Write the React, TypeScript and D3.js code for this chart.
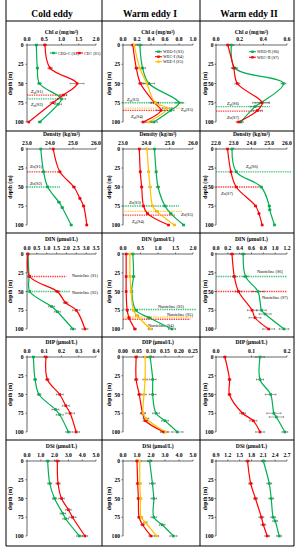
import React from "react";
import * as d3 from "d3";

const GREEN = "#00B050";
const RED = "#FF0000";
const ORANGE = "#FFC000";
const FONT = "'Liberation Serif', 'Times New Roman', Times, serif";

// ---------- text ----------
const columnTitles = ["Cold eddy", "Warm eddy I", "Warm eddy II"];
const variableNames = ["Chl", "Density", "DIN", "DIP", "DSi"];
const variableUnits = ["(mg/m³)", "(kg/m³)", "(μmol/L)", "(μmol/L)", "(μmol/L)"];
const stationNames = ["CEC (S1)", "CEO-C (S2)", "WEO-I (S3)", "WEC-I (S4)", "WEE-I (S5)", "WEO-II (S6)", "WEC-II (S7)"];
const stationCodes = ["S1", "S2", "S3", "S4", "S5", "S6", "S7"];
const depthTicks = [0, 25, 50, 75, 100];

// ---------- sampling depths (m) per station ----------
const depthS1 = [0, 30, 50, 65, 75, 100];
const depthS2 = [0, 30, 50, 70, 77, 100];
const depthS3 = [0, 30, 50, 75, 85, 100];
const depthS4 = [0, 30, 50, 75, 85, 100];
const depthS5 = [0, 30, 50, 75, 82, 100];
const depthS6 = [0, 30, 50, 75, 80, 100];
const depthS7 = [0, 30, 50, 75, 85, 100];

// ---------- Chl a (mg/m3) ----------
const chlS1 = [0.52, 0.67, 1.45, 1.05, 0.75, 0.05];
const chlS2 = [0.27, 0.3, 0.36, 1.0, 0.9, 0.37];
const chlS3 = [0.24, 0.28, 0.37, 0.8, 0.68, 0.44];
const chlS4 = [0.14, 0.19, 0.25, 0.45, 0.54, 0.29];
const chlS5 = [0.16, 0.24, 0.34, 0.46, 0.63, 0.37];
const chlS6 = [0.13, 0.16, 0.57, 0.38, 0.33, 0.21];
const chlS7 = [0.1, 0.15, 0.18, 0.39, 0.35, 0.19];
const chlS1Err = [0.04, 0.06, 0.2, 0.1, 0.08, 0.02];
const chlS2Err = [0.03, 0.03, 0.05, 0.12, 0.1, 0.04];
const chlS3Err = [0.03, 0.04, 0.08, 0.05, 0.05, 0.05];
const chlS4Err = [0.02, 0.02, 0.03, 0.06, 0.06, 0.03];
const chlS5Err = [0.02, 0.03, 0.04, 0.05, 0.07, 0.04];
const chlS6Err = [0.02, 0.02, 0.02, 0.07, 0.04, 0.02];
const chlS7Err = [0.01, 0.02, 0.02, 0.06, 0.04, 0.02];

// ---------- Density (kg/m3) ----------
const denS1 = [24.14, 24.43, 25.04, 25.3, 25.46, 25.6];
const denS2 = [23.6, 23.72, 23.9, 24.39, 24.53, 24.92];
const denS3 = [24.35, 24.42, 24.5, 24.8, 25.05, 25.6];
const denS4 = [23.7, 23.74, 23.8, 23.88, 24.05, 24.95];
const denS5 = [24.03, 24.1, 24.16, 24.27, 24.45, 25.2];
const denS6 = [22.9, 23.14, 24.55, 25.0, 25.03, 25.3];
const denS7 = [22.65, 22.84, 23.14, 24.23, 24.42, 24.6];
const denS1Err = [0.03, 0.05, 0.06, 0.05, 0.05, 0.04];
const denS2Err = [0.03, 0.05, 0.05, 0.06, 0.05, 0.04];
const denS3Err = [0.03, 0.04, 0.06, 0.05, 0.05, 0.04];
const denS4Err = [0.03, 0.04, 0.05, 0.05, 0.05, 0.04];
const denS5Err = [0.03, 0.04, 0.05, 0.05, 0.05, 0.04];
const denS6Err = [0.03, 0.05, 0.05, 0.06, 0.06, 0.04];
const denS7Err = [0.03, 0.04, 0.05, 0.06, 0.05, 0.04];

// ---------- DIN (umol/L) ----------
const dinS1 = [0.05, 0.14, 1.54, 1.96, 2.5, 2.94];
const dinS2 = [0.05, 0.1, 0.14, 1.25, 1.54, 2.33];
const dinS3 = [0.28, 0.3, 0.25, 0.37, 0.75, 1.4];
const dinS4 = [0.09, 0.09, 0.09, 0.12, 0.17, 0.34];
const dinS5 = [0.2, 0.2, 0.23, 0.3, 0.4, 0.78];
const dinS6 = [0.46, 0.5, 0.71, 0.77, 0.83, 1.15];
const dinS7 = [0.27, 0.31, 0.38, 0.61, 0.66, 0.89];
const dinS1Err = [0.02, 0.03, 0.12, 0.12, 0.18, 0.15];
const dinS2Err = [0.02, 0.02, 0.03, 0.15, 0.15, 0.12];
const dinS3Err = [0.03, 0.04, 0.03, 0.04, 0.05, 0.1];
const dinS4Err = [0.02, 0.02, 0.02, 0.02, 0.03, 0.04];
const dinS5Err = [0.02, 0.02, 0.02, 0.03, 0.04, 0.06];
const dinS6Err = [0.03, 0.04, 0.1, 0.08, 0.1, 0.08];
const dinS7Err = [0.03, 0.03, 0.05, 0.08, 0.1, 0.1];

// ---------- DIP (umol/L) ----------
const dipS1 = [0.11, 0.118, 0.19, 0.225, 0.25, 0.285];
const dipS2 = [0.037, 0.047, 0.07, 0.165, 0.19, 0.24];
const dipS3 = [0.097, 0.106, 0.106, 0.118, 0.15, 0.194];
const dipS4 = [0.047, 0.047, 0.058, 0.07, 0.08, 0.146];
const dipS5 = [0.079, 0.079, 0.075, 0.072, 0.082, 0.152];
const dipS6 = [0.124, 0.124, 0.154, 0.163, 0.17, 0.194];
const dipS7 = [0.025, 0.038, 0.038, 0.075, 0.105, 0.124];
const dipS1Err = [0.01, 0.01, 0.02, 0.02, 0.025, 0.02];
const dipS2Err = [0.005, 0.008, 0.01, 0.02, 0.02, 0.015];
const dipS3Err = [0.012, 0.012, 0.012, 0.012, 0.012, 0.02];
const dipS4Err = [0.005, 0.006, 0.006, 0.008, 0.008, 0.012];
const dipS5Err = [0.006, 0.008, 0.008, 0.008, 0.01, 0.012];
const dipS6Err = [0.012, 0.01, 0.015, 0.02, 0.02, 0.008];
const dipS7Err = [0.003, 0.004, 0.004, 0.008, 0.01, 0.012];

// ---------- DSi (umol/L) ----------
const dsiS1 = [2.2, 2.25, 2.5, 3.0, 3.3, 4.2];
const dsiS2 = [1.5, 1.65, 2.0, 2.6, 2.8, 3.8];
const dsiS3 = [1.9, 2.1, 2.2, 2.2, 2.8, 3.6];
const dsiS4 = [1.0, 1.05, 1.1, 1.15, 1.4, 2.0];
const dsiS5 = [1.2, 1.2, 1.25, 1.3, 1.6, 2.4];
const dsiS6 = [2.1, 2.25, 2.3, 2.35, 2.4, 2.5];
const dsiS7 = [1.7, 1.78, 1.9, 2.05, 2.1, 2.2];
const dsiS1Err = [0.15, 0.15, 0.2, 0.2, 0.25, 0.2];
const dsiS2Err = [0.1, 0.15, 0.15, 0.2, 0.2, 0.2];
const dsiS3Err = [0.15, 0.2, 0.2, 0.2, 0.2, 0.25];
const dsiS4Err = [0.08, 0.1, 0.1, 0.1, 0.12, 0.15];
const dsiS5Err = [0.1, 0.1, 0.1, 0.1, 0.12, 0.15];
const dsiS6Err = [0.05, 0.06, 0.06, 0.06, 0.06, 0.06];
const dsiS7Err = [0.04, 0.05, 0.05, 0.06, 0.06, 0.06];

// ---------- reference depths (m) per station S1..S7 ----------
const zmChl = [65, 70, 75, 85, 82, 80, 86];
const zmDensity = [30, 50, 75, 87, 82, 30, 50];
const nutricline = [30, 50, 74, 87, 84, 30, 50];

// ---------- axis ticks ----------
const chlTicksCold = [0, 0.5, 1.0, 1.5, 2.0];
const chlTicksW1 = [0, 0.2, 0.4, 0.6, 0.8, 1.0];
const chlTicksW2 = [0, 0.2, 0.4, 0.6];
const denTicksCold = [23, 24, 25, 26];
const denTicksW1 = [23, 24, 25, 26];
const denTicksW2 = [22, 23, 24, 25, 26];
const dinTicksCold = [0, 0.5, 1.0, 1.5, 2.0, 2.5, 3.0, 3.5];
const dinTicksW1 = [0, 0.5, 1.0, 1.5, 2.0];
const dinTicksW2 = [0, 0.2, 0.4, 0.6, 0.8, 1.0, 1.2];
const dipTicksCold = [0, 0.1, 0.2, 0.3, 0.4];
const dipTicksW1 = [0, 0.05, 0.1, 0.15, 0.2, 0.25];
const dipTicksW2 = [0, 0.1, 0.2];
const dsiTicksCold = [0, 1, 2, 3, 4, 5];
const dsiTicksW1 = [0, 1, 2, 3, 4, 5];
const dsiTicksW2 = [0.9, 1.2, 1.5, 1.8, 2.1, 2.4, 2.7];

// ---------- tables built from the arrays ----------
const depthTable = [depthS1, depthS2, depthS3, depthS4, depthS5, depthS6, depthS7];
const valueTable = [
  [chlS1, chlS2, chlS3, chlS4, chlS5, chlS6, chlS7],
  [denS1, denS2, denS3, denS4, denS5, denS6, denS7],
  [dinS1, dinS2, dinS3, dinS4, dinS5, dinS6, dinS7],
  [dipS1, dipS2, dipS3, dipS4, dipS5, dipS6, dipS7],
  [dsiS1, dsiS2, dsiS3, dsiS4, dsiS5, dsiS6, dsiS7],
];
const errTable = [
  [chlS1Err, chlS2Err, chlS3Err, chlS4Err, chlS5Err, chlS6Err, chlS7Err],
  [denS1Err, denS2Err, denS3Err, denS4Err, denS5Err, denS6Err, denS7Err],
  [dinS1Err, dinS2Err, dinS3Err, dinS4Err, dinS5Err, dinS6Err, dinS7Err],
  [dipS1Err, dipS2Err, dipS3Err, dipS4Err, dipS5Err, dipS6Err, dipS7Err],
  [dsiS1Err, dsiS2Err, dsiS3Err, dsiS4Err, dsiS5Err, dsiS6Err, dsiS7Err],
];
const tickTable = [
  [chlTicksCold, chlTicksW1, chlTicksW2],
  [denTicksCold, denTicksW1, denTicksW2],
  [dinTicksCold, dinTicksW1, dinTicksW2],
  [dipTicksCold, dipTicksW1, dipTicksW2],
  [dsiTicksCold, dsiTicksW1, dsiTicksW2],
];

// ---------- layout / style ----------
const stationColors = [RED, GREEN, GREEN, RED, ORANGE, GREEN, RED];
const colStations = [[1, 0], [2, 3, 4], [5, 6]];
const colX = [[27, 96], [123, 193], [216, 287]];
const rowY = [[45, 122], [149, 225], [254, 329], [357, 432], [461, 536]];
const tickLabelRight = [23.5, 120, 213.5];
const yTitleX = [12, 111, 207];
const colSep = [6, 102, 200, 294];
const rowSep = [21, 131, 233, 337, 440, 546];
const colCenter = [52, 150, 249];

type RefSpec = { s: number; end: number; lx: number; ly: number };
// reference line layout per [row][col]
const refLayout: Record<string, RefSpec[]> = {
  "0-0": [{ s: 0, end: 0.58, lx: 31, ly: 93 }, { s: 1, end: 0.45, lx: 31, ly: 106 }],
  "0-1": [{ s: 2, end: 0.89, lx: 127, ly: 101 }, { s: 4, end: 0.84, lx: 181, ly: 111 }, { s: 3, end: 0.64, lx: 131, ly: 118 }],
  "0-2": [{ s: 5, end: 0.76, lx: 227, ly: 105 }, { s: 6, end: 0.66, lx: 227, ly: 118.5 }],
  "1-0": [{ s: 0, end: 0.5, lx: 30, ly: 167.5 }, { s: 1, end: 0.48, lx: 30, ly: 184.5 }],
  "1-1": [{ s: 2, end: 0.8, lx: 129, ly: 203.5 }, { s: 4, end: 0.85, lx: 181, ly: 215.5 }, { s: 3, end: 0.74, lx: 132, ly: 223 }],
  "1-2": [{ s: 5, end: 1.07, lx: 246, ly: 168 }, { s: 6, end: 0.62, lx: 221, ly: 194.5 }],
  "2-0": [{ s: 0, end: 0.57, lx: 72, ly: 277 }, { s: 1, end: 0.62, lx: 72, ly: 293.5 }],
  "2-1": [{ s: 2, end: 1.05, lx: 158, ly: 307.5 }, { s: 4, end: 1.0, lx: 167, ly: 315.5 }, { s: 3, end: 0.96, lx: 148, ly: 326.5 }],
  "2-2": [{ s: 5, end: 1.0, lx: 257, ly: 272.5 }, { s: 6, end: 1.0, lx: 262, ly: 298.5 }],
};
const legendLayout = [
  [[50, 53], [76, 53]],
  [[155, 51.7], [155, 56.7], [155, 61.7]],
  [[249, 51.7], [249, 57.3]],
];

function Panel({ r, c }: { r: number; c: number }) {
  const ticks = tickTable[r][c];
  const x = d3.scaleLinear().domain([ticks[0], ticks[ticks.length - 1]]).range(colX[c]);
  const y = d3.scaleLinear().domain([0, 100]).range(rowY[r]);
  const fmt = d3.format(r === 3 && c === 1 ? ".2f" : ".1f");
  const y0 = rowY[r][0];
  const y100 = rowY[r][1];
  const [x0, x1] = colX[c];
  const refs = refLayout[`${r}-${c}`] || [];
  const refDepths = r === 0 ? zmChl : r === 1 ? zmDensity : nutricline;
  const line = d3
    .line<[number, number]>()
    .x((d) => x(d[1]))
    .y((d) => y(d[0]))
    .curve(d3.curveCatmullRom.alpha(0.5));
  const titleY = r === 0 ? y0 - 11 : y0 - 13;

  return (
    <g>
      {/* title */}
      <text x={(x0 + x1) / 2} y={titleY} textAnchor="middle" fontSize={5.6} fontWeight="bold">
        {r === 0 ? (
          <>
            <tspan>Chl </tspan>
            <tspan fontStyle="italic">a</tspan>
            <tspan> {variableUnits[0]}</tspan>
          </>
        ) : (
          `${variableNames[r]} ${variableUnits[r]}`
        )}
      </text>
      {/* x axis (top) */}
      <line x1={x0} x2={x1} y1={y0} y2={y0} stroke="#000" strokeWidth={0.6} />
      {ticks.map((t, i) => (
        <g key={"xt" + i}>
          <line x1={x(t)} x2={x(t)} y1={y0} y2={y0 - 1.5} stroke="#000" strokeWidth={0.5} />
          <text x={x(t)} y={y0 - 4} textAnchor="middle" fontSize={5.6} fontWeight="bold">
            {fmt(t)}
          </text>
        </g>
      ))}
      {/* y axis */}
      <line x1={x0} x2={x0} y1={y0} y2={y100} stroke="#000" strokeWidth={0.6} />
      {depthTicks.map((t, i) => (
        <g key={"yt" + i}>
          <line x1={x0 - 1.5} x2={x0} y1={y(t)} y2={y(t)} stroke="#000" strokeWidth={0.5} />
          <text x={tickLabelRight[c]} y={y(t) + 2} textAnchor="end" fontSize={5.6} fontWeight="bold">
            {t}
          </text>
        </g>
      ))}
      <text
        transform={`translate(${yTitleX[c]},${(y0 + y100) / 2}) rotate(-90)`}
        textAnchor="middle"
        fontSize={5.6}
        fontWeight="bold"
      >
        depth (m)
      </text>
      {/* reference lines */}
      {refs.map((rf, i) => {
        const yy = y(refDepths[rf.s]);
        const col = stationColors[rf.s];
        return (
          <g key={"ref" + i}>
            <line
              x1={x0}
              x2={x0 + rf.end * (x1 - x0)}
              y1={yy}
              y2={yy}
              stroke={col}
              strokeWidth={1.3}
              strokeDasharray="1.4 0.9"
              opacity={0.75}
            />
            {r < 2 ? (
              <text x={rf.lx} y={rf.ly} fontSize={4.3} fontStyle="italic">
                <tspan>Z</tspan>
                <tspan fontSize={3} dy={0.8}>
                  m
                </tspan>
                <tspan dy={-0.8} fontStyle="normal">
                  ({stationCodes[rf.s]})
                </tspan>
              </text>
            ) : (
              <text x={rf.lx} y={rf.ly} fontSize={4.3}>
                Nutricline ({stationCodes[rf.s]})
              </text>
            )}
          </g>
        );
      })}
      {/* series */}
      {colStations[c].map((s) => {
        const depths = depthTable[s];
        const vals = valueTable[r][s];
        const pts: [number, number][] = depths.map((d, i) => [d, vals[i]]);
        return (
          <path key={"ln" + s} d={line(pts) || ""} fill="none" stroke={stationColors[s]} strokeWidth={1.2} />
        );
      })}
      {colStations[c].map((s) => {
        const depths = depthTable[s];
        const vals = valueTable[r][s];
        const errs = errTable[r][s];
        return (
          <g key={"pt" + s}>
            {depths.map((d, i) => {
              const cx = x(vals[i]);
              const cy = y(d);
              const xl = x(vals[i] - errs[i]);
              const xr = x(vals[i] + errs[i]);
              return (
                <g key={i}>
                  <line x1={xl} x2={xr} y1={cy} y2={cy} stroke="#333" strokeWidth={0.45} />
                  <line x1={xl} x2={xl} y1={cy - 1} y2={cy + 1} stroke="#333" strokeWidth={0.45} />
                  <line x1={xr} x2={xr} y1={cy - 1} y2={cy + 1} stroke="#333" strokeWidth={0.45} />
                  <rect x={cx - 1.3} y={cy - 1.3} width={2.6} height={2.6} fill={stationColors[s]} />
                </g>
              );
            })}
          </g>
        );
      })}
      {/* legend */}
      {r === 0 &&
        colStations[c].map((s, i) => {
          const [lx, ly] = legendLayout[c][i];
          return (
            <g key={"lg" + s}>
              <line x1={lx} x2={lx + 7} y1={ly} y2={ly} stroke={stationColors[s]} strokeWidth={1.1} />
              <rect x={lx + 2.3} y={ly - 1.2} width={2.4} height={2.4} fill={stationColors[s]} />
              <text x={lx + 8} y={ly + 1.5} fontSize={4.2}>
                {stationNames[s]}
              </text>
            </g>
          );
        })}
    </g>
  );
}

export default function App() {
  const rows = [0, 1, 2, 3, 4];
  const cols = [0, 1, 2];
  return (
    <svg
      width={300}
      height={550}
      style={{ position: "absolute", left: 0, top: 0, background: "#fff" }}
      fontFamily={FONT}
    >
      <rect x={0} y={0} width={300} height={550} fill="#fff" />
      {/* grid of the table */}
      {colSep.map((xx, i) => (
        <line key={"cs" + i} x1={xx} x2={xx} y1={0} y2={rowSep[rowSep.length - 1]} stroke="#000" strokeWidth={1} />
      ))}
      {rowSep.map((yy, i) => (
        <line key={"rs" + i} x1={colSep[0]} x2={colSep[colSep.length - 1]} y1={yy} y2={yy} stroke="#000" strokeWidth={1} />
      ))}
      {columnTitles.map((t, i) => (
        <text key={"ct" + i} x={colCenter[i]} y={17} textAnchor="middle" fontSize={9.5} fontWeight="bold">
          {t}
        </text>
      ))}
      {rows.map((r) => cols.map((c) => <Panel key={`${r}-${c}`} r={r} c={c} />))}
    </svg>
  );
}
